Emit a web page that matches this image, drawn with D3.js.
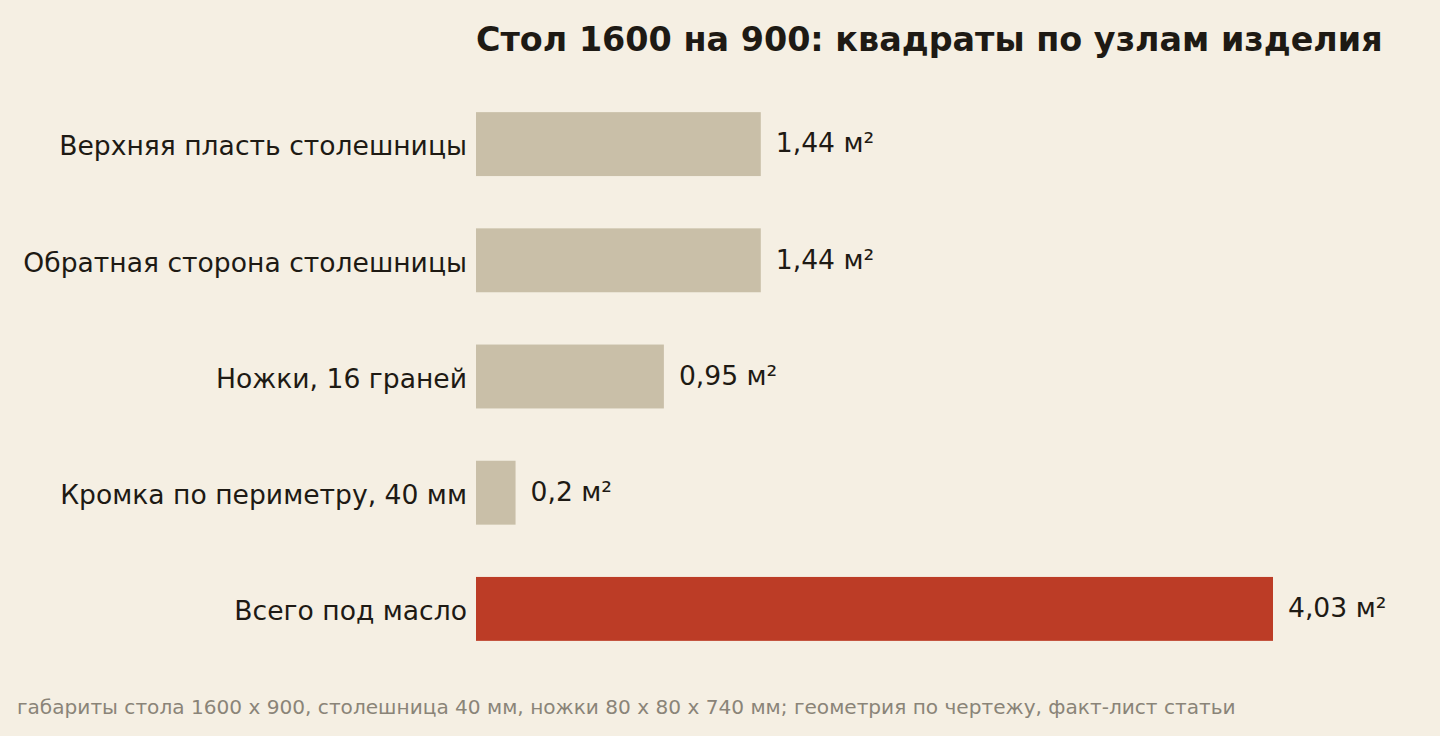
<!DOCTYPE html>
<html>
<head>
<meta charset="utf-8">
<script src="https://cdn.jsdelivr.net/npm/d3@7"></script>
<style>
  body { margin: 0; background: #f5efe3; }
  svg { display: block; font-family: "DejaVu Sans", sans-serif; }
</style>
</head>
<body>
<svg></svg>
<script>
const categories = [
  "Верхняя пласть столешницы",
  "Обратная сторона столешницы",
  "Ножки, 16 граней",
  "Кромка по периметру, 40 мм",
  "Всего под масло",
];
const values = [1.44, 1.44, 0.95, 0.2, 4.03];
const valueLabels = ["1,44 м²", "1,44 м²", "0,95 м²", "0,2 м²", "4,03 м²"];
const highlighted = [false, false, false, false, true];

const width = 1440;
const height = 736;
const svg = d3.select("svg").attr("width", width).attr("height", height);

svg.append("rect").attr("width", width).attr("height", height).attr("fill", "#f5efe3");

const x = d3.scaleLinear().domain([0, 4.03]).range([476, 1273]);
const y = d3.scaleBand()
  .domain(categories)
  .range([86, 667])
  .paddingInner(0.45)
  .paddingOuter(0.225);

// title
svg.append("text")
  .attr("x", 476)
  .attr("y", 51)
  .attr("font-size", 33.4)
  .attr("font-weight", "bold")
  .attr("fill", "#1e1a14")
  .text("Стол 1600 на 900: квадраты по узлам изделия");

const rows = svg.selectAll("g.row")
  .data(categories.map((c, i) => ({ c, v: values[i], l: valueLabels[i], h: highlighted[i] })))
  .enter().append("g").attr("class", "row");

rows.append("rect")
  .attr("x", x(0))
  .attr("y", d => y(d.c))
  .attr("width", d => x(d.v) - x(0))
  .attr("height", y.bandwidth())
  .attr("fill", d => d.h ? "#bc3c26" : "#c9bfa8");

// category labels
rows.append("text")
  .attr("x", x(0) - 9)
  .attr("y", d => y(d.c) + y.bandwidth() / 2 + 2)
  .attr("dy", "0.35em")
  .attr("text-anchor", "end")
  .attr("font-size", 26.6)
  .attr("fill", "#1e1a14")
  .text(d => d.c);

// value labels
rows.append("text")
  .attr("x", d => x(d.v) + 15)
  .attr("y", d => y(d.c) + y.bandwidth() / 2 - 1)
  .attr("dy", "0.35em")
  .attr("font-size", 26.6)
  .attr("fill", "#1e1a14")
  .text(d => d.l);

// footnote
svg.append("text")
  .attr("x", 17)
  .attr("y", 714)
  .attr("font-size", 20.1)
  .attr("fill", "#8a8478")
  .text("габариты стола 1600 x 900, столешница 40 мм, ножки 80 x 80 x 740 мм; геометрия по чертежу, факт-лист статьи");
</script>
</body>
</html>
